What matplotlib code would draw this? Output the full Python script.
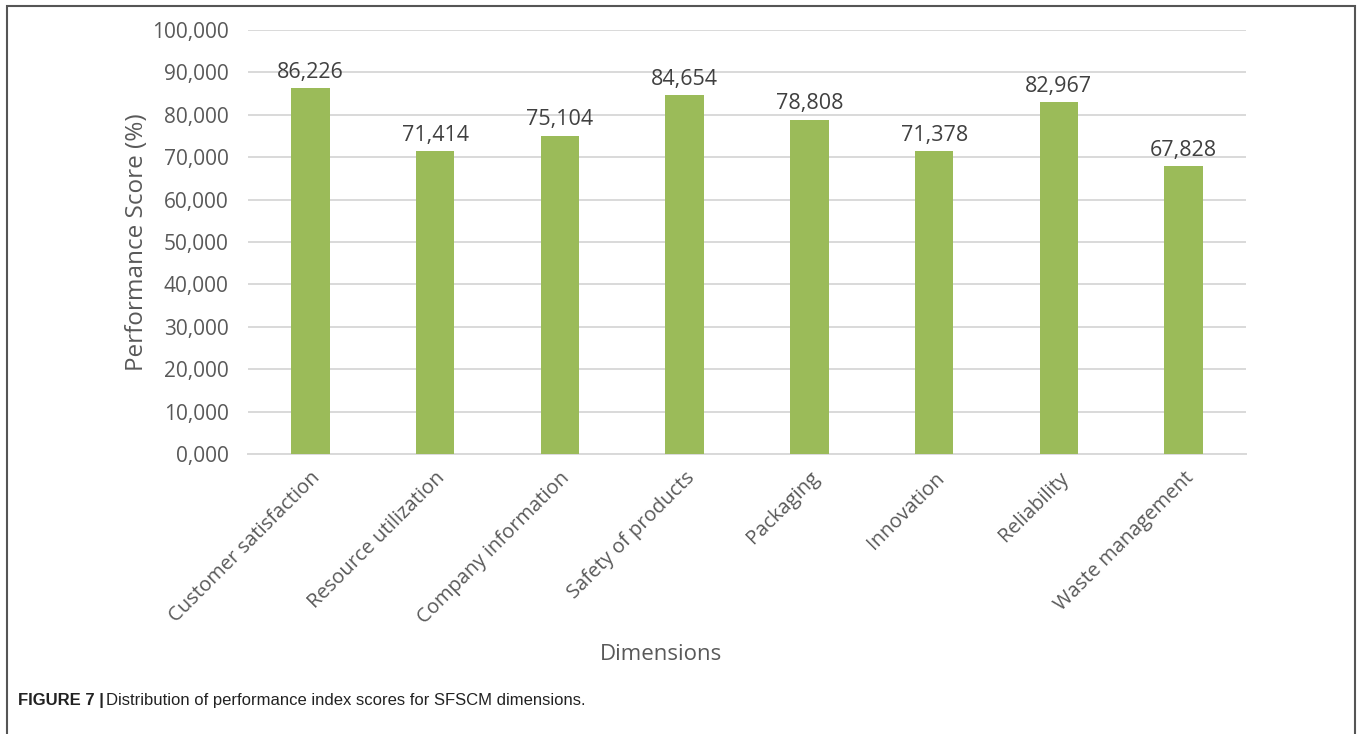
import matplotlib
matplotlib.use('Agg')
from matplotlib import pyplot as plt
from matplotlib.patches import Rectangle
from matplotlib.ticker import FuncFormatter

# 데이터
dimensions = ['Customer satisfaction', 'Resource utilization', 'Company information',
              'Safety of products', 'Packaging', 'Innovation', 'Reliability', 'Waste management']
scores = [86.226, 71.414, 75.104, 84.654, 78.808, 71.378, 82.967, 67.828]
yticks = [0, 10, 20, 30, 40, 50, 60, 70, 80, 90, 100]

plt.rcParams['font.family'] = ['Open Sans', 'DejaVu Sans']
gray = '#595959'

fig = plt.figure(figsize=(13.57, 7.34), dpi=100)
ax = fig.add_axes([248 / 1357, 1 - 454 / 734, (1246 - 248) / 1357, (454 - 30) / 734])

ax.bar(range(len(dimensions)), scores, width=0.31, color='#9BBB59', zorder=3)
for i, v in enumerate(scores):
    ax.text(i, v + 1.3, '{:,.3f}'.format(v).replace('.', ','), ha='center', va='bottom',
            fontsize=15.5, color='#404040')

ax.set_xlim(-0.5, len(dimensions) - 0.5)
ax.set_ylim(0, 100)
ax.set_yticks(yticks)
ax.yaxis.set_major_formatter(FuncFormatter(lambda y, p: '{:,.3f}'.format(y).replace('.', ',')))
ax.grid(axis='y', color='#D9D9D9', linewidth=1.4, zorder=0)
for s in ['top', 'right', 'left']:
    ax.spines[s].set_visible(False)
ax.spines['bottom'].set_color('#D9D9D9')
ax.spines['bottom'].set_linewidth(1.4)
ax.tick_params(axis='y', length=0, labelsize=15, colors=gray, pad=14)
ax.set_xticks(range(len(dimensions)))
ax.set_xticklabels(dimensions, rotation=45, ha='right', rotation_mode='anchor')
ax.tick_params(axis='x', length=0, labelsize=14.5, colors=gray, pad=10)

ax.set_ylabel('Performance Score (%)', fontsize=17.5, color=gray, labelpad=2)
fig.text(661 / 1357, 1 - 655 / 734, 'Dimensions', fontsize=16, color=gray, ha='center', va='center')

# 바깥 테두리
fig.patches.append(Rectangle((7 / 1357, -0.05), 1348 / 1357, 1.05 - 6 / 734, transform=fig.transFigure,
                             fill=False, edgecolor='#555555', linewidth=1.5))

fig.text(18 / 1357, 1 - 701 / 734, 'FIGURE 7 |', fontsize=12, fontweight='bold', color='#222222',
         family=['Liberation Sans Narrow', 'Liberation Sans'], va='center')
fig.text(106 / 1357, 1 - 701 / 734, 'Distribution of performance index scores for SFSCM dimensions.',
         fontsize=12, color='#222222', family=['Liberation Sans Narrow', 'Liberation Sans'], va='center')

fig.savefig('out.png', dpi=100)
